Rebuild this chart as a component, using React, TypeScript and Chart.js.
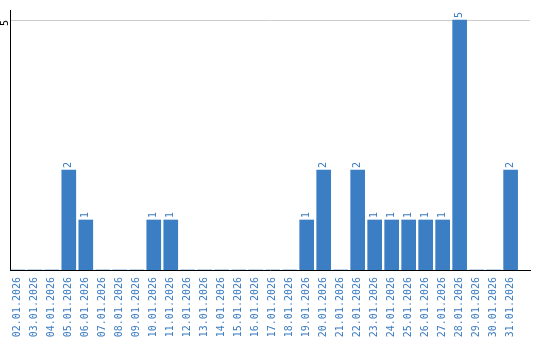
import React, { useEffect, useRef } from "react";
import { Chart, registerables } from "chart.js";

Chart.register(...registerables);

const dates = [
  "02.01.2026", "03.01.2026", "04.01.2026", "05.01.2026", "06.01.2026",
  "07.01.2026", "08.01.2026", "09.01.2026", "10.01.2026", "11.01.2026",
  "12.01.2026", "13.01.2026", "14.01.2026", "15.01.2026", "16.01.2026",
  "17.01.2026", "18.01.2026", "19.01.2026", "20.01.2026", "21.01.2026",
  "22.01.2026", "23.01.2026", "24.01.2026", "25.01.2026", "26.01.2026",
  "27.01.2026", "28.01.2026", "29.01.2026", "30.01.2026", "31.01.2026",
];
const counts = [0, 0, 0, 2, 1, 0, 0, 0, 1, 1, 0, 0, 0, 0, 0, 0, 0, 1, 2, 0, 2, 1, 1, 1, 1, 1, 5, 0, 0, 2];
const yTicks = [5];

const BAR = "#3c7ec3";
const TEXT = "#3a7bc1";
const FONT = "'DejaVu Sans Mono', monospace";

const labelPlugin = {
  id: "customLabels",
  afterDatasetsDraw(chart: any) {
    const ctx = chart.ctx;
    const meta = chart.getDatasetMeta(0);
    ctx.save();
    ctx.fillStyle = TEXT;
    ctx.font = `10px ${FONT}`;
    meta.data.forEach((el: any, i: number) => {
      const v = counts[i];
      if (!v) return;
      ctx.save();
      ctx.translate(el.x, el.y - 2);
      ctx.rotate(-Math.PI / 2);
      ctx.textAlign = "left";
      ctx.textBaseline = "middle";
      ctx.fillText(String(v), 0, 0);
      ctx.restore();
    });
    const ys = chart.scales.y;
    yTicks.forEach((t) => {
      const py = ys.getPixelForValue(t);
      ctx.save();
      ctx.translate(5.5, py + 3);
      ctx.rotate(-Math.PI / 2);
      ctx.textAlign = "center";
      ctx.textBaseline = "middle";
      ctx.fillStyle = "#000";
      ctx.fillText(String(t), 0, 0);
      ctx.restore();
    });
    ctx.restore();
  },
};

export default function App() {
  const ref = useRef<HTMLCanvasElement | null>(null);
  useEffect(() => {
    if (!ref.current) return;
    const chart = new Chart(ref.current, {
      type: "bar",
      data: {
        datasets: [
          {
            data: counts.map((v, i) => ({ x: i, y: v })),
            backgroundColor: BAR,
            barThickness: 14,
          },
        ],
      },
      options: {
        animation: false,
        responsive: true,
        maintainAspectRatio: false,
        layout: { padding: { top: 10, right: 10, left: 0, bottom: 0 } },
        plugins: { legend: { display: false }, tooltip: { enabled: false } },
        scales: {
          x: {
            type: "linear",
            offset: false,
            min: -0.46,
            max: 30.14,
            afterBuildTicks: (s: any) => {
              s.ticks = dates.map((_, i) => ({ value: i }));
            },
            afterFit: (s: any) => {
              s.height = 70;
            },
            grid: { display: false, drawTicks: false, offset: false },
            border: { display: true, color: "#000", width: 1 },
            ticks: {
              autoSkip: false,
              minRotation: 90,
              maxRotation: 90,
              padding: 7,
              color: TEXT,
              font: { family: FONT, size: 10 },
              callback: (v: any) => dates[v] ?? "",
            },
          },
          y: {
            min: 0,
            max: 5.2,
            afterBuildTicks: (s: any) => {
              s.ticks = yTicks.map((v) => ({ value: v }));
            },
            afterFit: (s: any) => {
              s.width = 10;
            },
            grid: { display: true, color: "#cccccc", lineWidth: 1, drawTicks: false },
            border: { display: true, color: "#000", width: 1 },
            ticks: { display: false },
          },
        },
      },
      plugins: [labelPlugin],
    });
    return () => chart.destroy();
  }, []);
  return (
    <div style={{ position: "fixed", left: 0, top: 0, width: 540, height: 340, background: "#fff" }}>
      <canvas ref={ref} />
    </div>
  );
}
